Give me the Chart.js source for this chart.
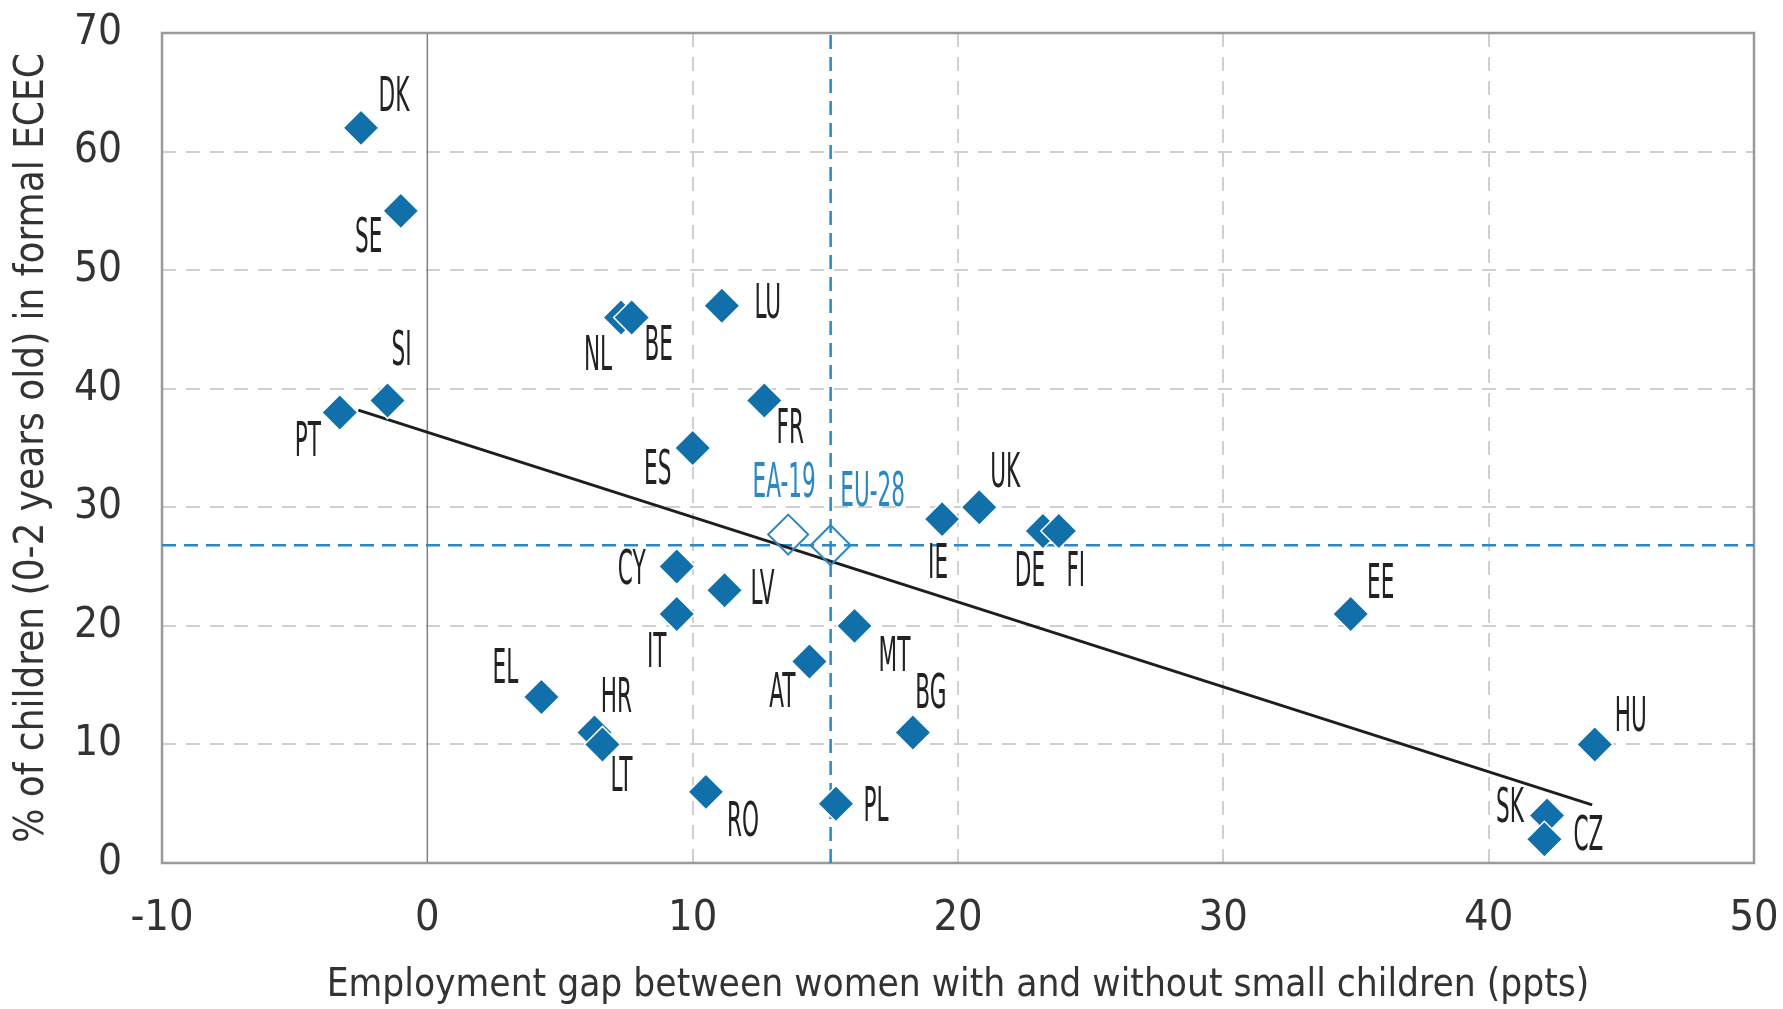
<!DOCTYPE html>
<html>
<head>
<meta charset="utf-8">
<script src="https://cdn.jsdelivr.net/npm/chart.js@4.4.0/dist/chart.umd.min.js"></script>
<style>
html, body { margin: 0; padding: 0; background: #fff; }
#wrap { width: 1783px; height: 1009px; position: relative; }
</style>
</head>
<body>
<div id="wrap"><canvas id="chart"></canvas></div>
<script>
// country data: employment gap (ppts) vs % of children 0-2 in formal ECEC
const countries = ['DK', 'SE', 'SI', 'PT', 'NL', 'BE', 'LU', 'FR', 'ES', 'CY', 'LV', 'IT', 'MT', 'AT', 'EL', 'HR', 'LT', 'RO', 'PL', 'IE', 'UK', 'DE', 'FI', 'EE', 'BG', 'HU', 'SK', 'CZ'];
const gapValues = [-2.5, -1.0, -1.5, -3.3, 7.3, 7.7, 11.1, 12.7, 10.0, 9.4, 11.2, 9.4, 16.1, 14.4, 4.3, 6.3, 6.6, 10.5, 15.4, 19.4, 20.8, 23.2, 23.8, 34.8, 18.3, 44.0, 42.2, 42.1];
const ececValues = [62, 55, 39, 38, 46, 46, 47, 39, 35, 25, 23, 21, 20, 17, 14, 11, 10, 6, 5, 29, 30, 28, 28, 21, 11, 10, 4, 2];

// EU aggregates (open diamonds)
const aggregates = ['EA-19', 'EU-28'];
const aggGap = [13.6, 15.2];
const aggEcec = [27.7, 26.8];

// fitted line, ends
const trendGap = [-2.6, 43.9];
const trendEcec = [38.2, 4.9];

const xTicks = [-10, 0, 10, 20, 30, 40, 50];
const yTicks = [0, 10, 20, 30, 40, 50, 60, 70];

const xTitle = 'Employment gap between women with and without small children (ppts)';
const yTitle = '% of children (0-2 years old) in formal ECEC';

// label placement (px from marker centre)
const labelOffsets = {
    DK: [33, -29], SE: [-32, 29], SI: [14, -48], PT: [-32, 31], NL: [-23, 40], BE: [27, 30],
    LU: [46, 0], FR: [26, 30], ES: [-35, 24], CY: [-45, 5], LV: [38, 1], IT: [-20, 41],
    MT: [40, 33], AT: [-27, 33], EL: [-36, -26], HR: [22, -33], LT: [19, 34], RO: [37, 32],
    PL: [40, 5], IE: [-4, 46], UK: [26, -33], DE: [-13, 43], FI: [17, 43], EE: [30, -28],
    BG: [18, -37], HU: [36, -26], SK: [-37, -6], CZ: [44, -2],
    'EA-19': [-4, -50], 'EU-28': [42, -52]
};

const BLUE = '#1170AA';
const LIGHT_BLUE = '#2C88C4';
const FONT = "'DejaVu Sans Condensed', 'Liberation Sans Narrow', 'DejaVu Sans', sans-serif";

const toPoints = (xs, ys) => xs.map((x, i) => ({ x: x, y: ys[i] }));

// frame + solid zero line
const framePlugin = {
    id: 'frame',
    beforeDatasetsDraw(chart) {
        const { ctx, chartArea: a, scales } = chart;
        ctx.save();
        const x0 = scales.x.getPixelForValue(0);
        ctx.strokeStyle = '#808080';
        ctx.lineWidth = 1.5;
        ctx.beginPath();
        ctx.moveTo(x0, a.top);
        ctx.lineTo(x0, a.bottom);
        ctx.stroke();
        ctx.strokeStyle = '#9a9a9a';
        ctx.lineWidth = 2.5;
        ctx.strokeRect(a.left, a.top, a.right - a.left, a.bottom - a.top);
        ctx.restore();
    }
};

const labelPlugin = {
    id: 'pointLabels',
    afterDatasetsDraw(chart) {
        const ctx = chart.ctx;
        ctx.save();
        ctx.font = '48px ' + FONT;
        ctx.textAlign = 'center';
        ctx.textBaseline = 'middle';
        const draw = (meta, names, color) => {
            meta.data.forEach((pt, i) => {
                const off = labelOffsets[names[i]] || [0, 0];
                ctx.save();
                ctx.translate(pt.x + off[0], pt.y + off[1]);
                ctx.scale(0.5, 1);
                ctx.fillStyle = color;
                ctx.fillText(names[i], 0, 0);
                ctx.restore();
            });
        };
        draw(chart.getDatasetMeta(0), countries, '#222222');
        draw(chart.getDatasetMeta(1), aggregates, LIGHT_BLUE);
        ctx.restore();
    }
};

const gridColor = (lo, hi) => (c) => {
    const v = c.tick ? c.tick.value : null;
    return (v === lo || v === hi || v === 0) ? 'rgba(0,0,0,0)' : '#cfcfcf';
};

const ctx = document.getElementById('chart').getContext('2d');
const chart = new Chart(ctx, {
    type: 'scatter',
    data: {
        datasets: [
            {
                label: 'Countries',
                data: toPoints(gapValues, ececValues),
                pointStyle: 'rectRot',
                pointRadius: 18,
                backgroundColor: BLUE,
                borderColor: '#ffffff',
                borderWidth: 1.5
            },
            {
                label: 'Aggregates',
                data: toPoints(aggGap, aggEcec),
                pointStyle: 'rectRot',
                pointRadius: 20,
                backgroundColor: 'rgba(255,255,255,0)',
                borderColor: LIGHT_BLUE,
                borderWidth: 2
            },
            {
                label: 'Trend',
                data: toPoints(trendGap, trendEcec),
                showLine: true,
                borderColor: '#1e1e1e',
                borderWidth: 3,
                pointRadius: 0
            },
            {
                label: 'EU-28 ECEC',
                data: [{ x: xTicks[0], y: aggEcec[1] }, { x: xTicks[xTicks.length - 1], y: aggEcec[1] }],
                showLine: true,
                borderColor: LIGHT_BLUE,
                borderWidth: 2.5,
                borderDash: [14, 8],
                pointRadius: 0
            },
            {
                label: 'EU-28 gap',
                data: [{ x: aggGap[1], y: yTicks[0] }, { x: aggGap[1], y: yTicks[yTicks.length - 1] }],
                showLine: true,
                borderColor: LIGHT_BLUE,
                borderWidth: 2.5,
                borderDash: [14, 8],
                pointRadius: 0
            }
        ]
    },
    options: {
        responsive: true,
        maintainAspectRatio: false,
        devicePixelRatio: 1,
        animation: false,
        layout: { padding: { top: 33, right: 29, left: 0, bottom: 0 } },
        plugins: {
            legend: { display: false },
            tooltip: { enabled: false }
        },
        scales: {
            x: {
                type: 'linear',
                min: xTicks[0],
                max: xTicks[xTicks.length - 1],
                afterBuildTicks: (s) => { s.ticks = xTicks.map(v => ({ value: v })); },
                afterFit: (s) => { s.height = 146; s.paddingLeft = 0; s.paddingRight = 0; },
                grid: { color: gridColor(xTicks[0], xTicks[xTicks.length - 1]), lineWidth: 2, drawTicks: false },
                border: { display: false, dash: [14, 10] },
                ticks: { padding: 30, color: '#333333', font: { family: FONT, size: 43 } },
                title: {
                    display: true,
                    text: xTitle,
                    color: '#333333',
                    font: { family: FONT, size: 38.5 },
                    padding: { top: 0, bottom: 0 }
                }
            },
            y: {
                type: 'linear',
                min: yTicks[0],
                max: yTicks[yTicks.length - 1],
                afterBuildTicks: (s) => { s.ticks = yTicks.map(v => ({ value: v })); },
                afterFit: (s) => { s.width = 162; s.paddingTop = 0; s.paddingBottom = 0; },
                grid: { color: gridColor(yTicks[0], yTicks[yTicks.length - 1]), lineWidth: 2, drawTicks: false },
                border: { display: false, dash: [14, 10] },
                ticks: { padding: 40, color: '#333333', font: { family: FONT, size: 42 } },
                title: {
                    display: true,
                    text: yTitle,
                    color: '#333333',
                    font: { family: FONT, size: 40 },
                    padding: { top: 9, bottom: 0 }
                }
            }
        }
    },
    plugins: [framePlugin, labelPlugin]
});
</script>
</body>
</html>
